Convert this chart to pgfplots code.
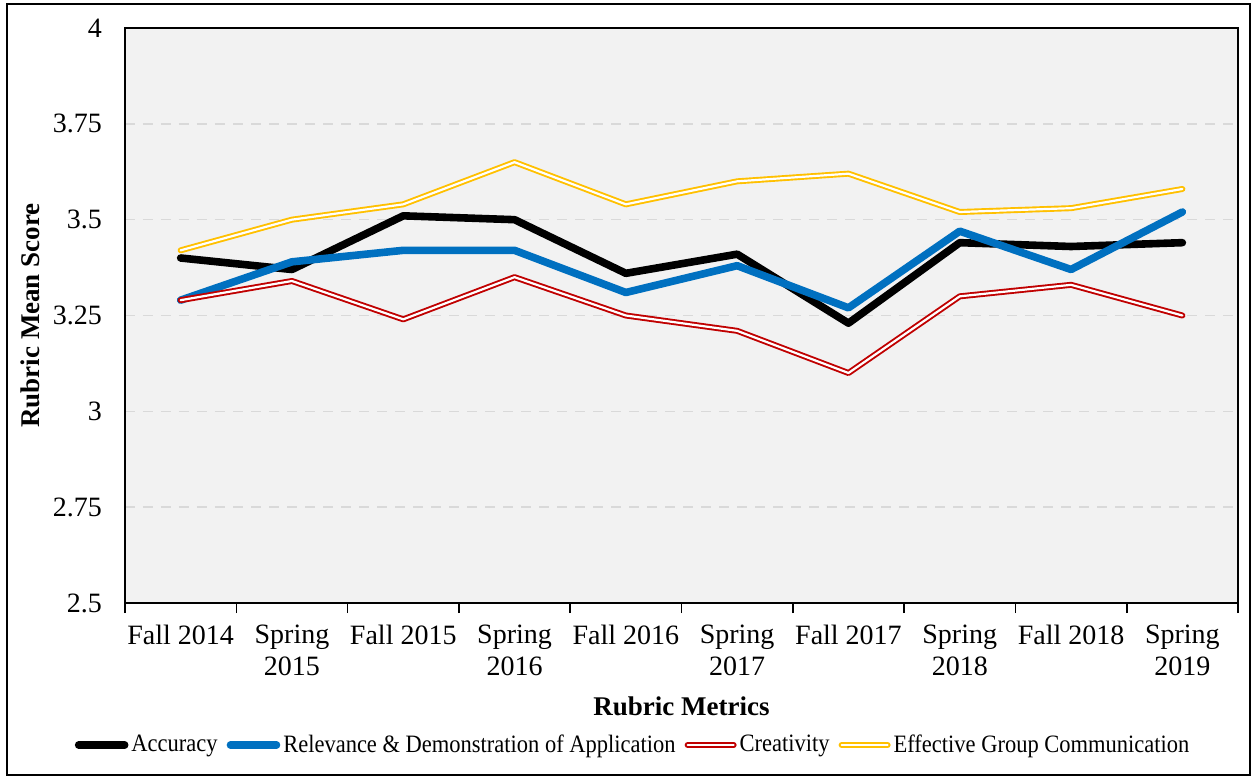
\documentclass[border=0pt]{standalone}
\usepackage{fontspec}
\setmainfont{Liberation Serif}
\newfontfamily\legfont[FakeStretch=0.9]{Liberation Serif}
\usepackage{pgfplots}
\pgfplotsset{compat=1.18}
\definecolor{bgc}{RGB}{242,242,242}
\definecolor{cblue}{RGB}{0,112,192}
\definecolor{cred}{RGB}{192,0,0}
\definecolor{cyel}{RGB}{255,192,0}
\begin{document}
\begin{tikzpicture}
\useasboundingbox (0,0) rectangle (626.5pt,389pt);
\draw[line width=0.9pt] (3.5pt,1.5pt) rectangle (624.8pt,386.8pt);
\begin{axis}[
  at={(62.5pt,87.5pt)}, anchor=south west,
  scale only axis, width=556.5pt, height=287.5pt,
  xmin=-0.5, xmax=9.5, ymin=2.5, ymax=4,
  axis background/.style={fill=bgc},
  axis line style={black, line width=0.8pt},
  ytick={2.5,2.75,3,3.25,3.5,3.75,4},
  yticklabels={2.5,2.75,3,3.25,3.5,3.75,4},
  ymajorgrids,
  major grid style={dashed, black!15, line width=0.7pt, dash pattern=on 5pt off 4pt},
  major tick length=0pt,
  xtick={0,...,9},
  xticklabels={Fall 2014,Spring\\2015,Fall 2015,Spring\\2016,Fall 2016,Spring\\2017,Fall 2017,Spring\\2018,Fall 2018,Spring\\2019},
  minor xtick={-0.5,0.5,...,9.5},
  minor tick length=5pt,
  xtick pos=lower, ytick pos=left,
  xtick align=outside,
  minor tick style={black, line width=0.8pt},
  tick label style={font=\fontsize{14}{16}\selectfont},
  xticklabel style={align=center, yshift=-7.5pt},
  yticklabel style={xshift=-8pt},
  xlabel={\textbf{Rubric Metrics}},
  ylabel={\textbf{Rubric Mean Score}},
  label style={font=\fontsize{13.5}{16}\selectfont},
  xlabel style={at={(axis description cs:0.5,-0.179)}, anchor=center},
  ylabel style={at={(axis description cs:-0.0854,0.5)}, anchor=center},
  legend columns=4,
  legend style={at={(axis description cs:0.457,-0.247)}, anchor=center, draw=none, fill=none,
    font=\legfont\fontsize{12.5}{15}\selectfont,
    /tikz/every even column/.append style={column sep=3pt},
    nodes={inner sep=1.5pt}},
  legend image code/.code={\draw[#1, line cap=round] (0pt,0pt) -- (23pt,0pt);},
  every axis plot/.append style={line cap=round, line join=round},
]
\addplot[black, line width=3.8pt] coordinates {(0,3.40)(1,3.37)(2,3.51)(3,3.50)(4,3.36)(5,3.41)(6,3.23)(7,3.44)(8,3.43)(9,3.44)};
\addlegendentry{Accuracy}
\addplot[cblue, line width=3.8pt] coordinates {(0,3.29)(1,3.39)(2,3.42)(3,3.42)(4,3.31)(5,3.38)(6,3.27)(7,3.47)(8,3.37)(9,3.52)};
\addlegendentry{Relevance \& Demonstration of Application}
\addplot[cred, line width=0.95pt, double=white, double distance=1.1pt] coordinates {(0,3.29)(1,3.34)(2,3.24)(3,3.35)(4,3.25)(5,3.21)(6,3.10)(7,3.30)(8,3.33)(9,3.25)};
\addlegendentry{Creativity}
\addplot[cyel, line width=0.95pt, double=white, double distance=1.1pt] coordinates {(0,3.42)(1,3.50)(2,3.54)(3,3.65)(4,3.54)(5,3.60)(6,3.62)(7,3.52)(8,3.53)(9,3.58)};
\addlegendentry{Effective Group Communication}
\end{axis}
\end{tikzpicture}
\end{document}
